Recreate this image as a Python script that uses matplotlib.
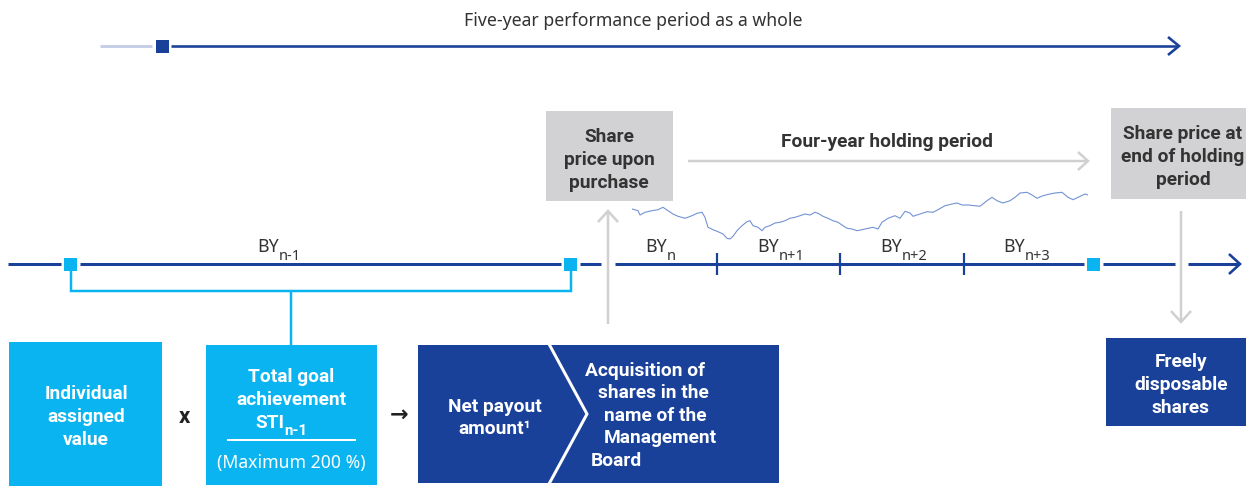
import matplotlib
matplotlib.use('Agg')
import matplotlib.pyplot as plt
from matplotlib.patches import Rectangle

plt.rcParams['font.family'] = ['Noto Sans', 'DejaVu Sans']
BOLDFAM = ['Roboto', 'DejaVu Sans']

# ---------------- data ----------------
title = "Five-year performance period as a whole"
holding_label = "Four-year holding period"
year_labels = ["BY", "BY", "BY", "BY", "BY"]
year_subs = ["n-1", "n", "n+1", "n+2", "n+3"]
box_purchase = "Share\nprice upon\npurchase"
box_end = "Share price at\nend of holding\nperiod"
box_individual = "Individual\nassigned\nvalue"
box_goal_lines = ["Total goal", "achievement"]
box_goal_sti = ("STI", "n-1")
box_goal_max = "(Maximum 200 %)"
box_net = "Net payout\namount\u00b9"
box_acq_lines = ["Acquisition of", "shares in the", "name of the", "Management", "Board"]
box_free = "Freely\ndisposable\nshares"

stock_day = [0, 6, 8, 13, 20, 26, 31, 36, 41, 46,
             53, 60, 65, 70, 73, 76, 81, 86, 91, 95,
             98, 101, 105, 110, 115, 118, 121, 126, 130, 133,
             138, 143, 148, 153, 158, 163, 168, 173, 178, 183,
             186, 191, 196, 201, 206, 211, 215, 220, 225, 230,
             236, 241, 246, 250, 256, 263, 268, 273, 278, 281,
             288, 295, 301, 306, 313, 320, 325, 330, 336, 343,
             348, 355, 360, 365, 371, 378, 383, 388, 395, 400,
             405, 411, 418, 423, 430, 436, 441, 446, 453, 456]
stock_price = [40, 38.3, 34, 36.7, 38.3, 39.3, 41.7, 38.3, 35, 32.7,
               30.7, 33.3, 35.7, 36.7, 31.7, 21.7, 19.3, 17.3, 15, 10.7,
               10, 12.7, 18.3, 23.3, 27.3, 28.3, 23.3, 21.7, 18.3, 21.7,
               23.3, 26, 26.7, 28.3, 30.7, 31.7, 33.3, 35, 34, 36.7,
               35.7, 32.7, 30.7, 28.3, 26.7, 23.3, 20.7, 20, 18.3, 19.3,
               20.7, 21.7, 20, 26.7, 30.7, 33.3, 30.7, 37.7, 36, 32.7,
               35, 37.3, 36.7, 39.3, 43.3, 45, 46, 44, 44, 43.3,
               42.7, 48.3, 51.7, 48.3, 46, 48.3, 51.7, 56, 56.7, 54,
               50.7, 53.3, 55, 56, 56.7, 51.7, 49.3, 51.7, 55, 54]

# ---------------- style ----------------
DARK = '#1a4199'
CYAN = '#0ab4f0'
GRAYBOX = '#d2d2d4'
GRAYARROW = '#d0d0d0'
LIGHT = '#c5d0e6'
TXT = '#333333'
STOCK = '#7393d3'
FS = 12.7
FB = 13.8
LS = 1.35

W, H = 1246, 502
fig = plt.figure(figsize=(W / 100, H / 100), dpi=100)
ax = fig.add_axes([0, 0, 1, 1])
ax.set_xlim(0, W)
ax.set_ylim(H, 0)
ax.axis('off')


def lw(px):
    return px * 0.72


def seg(x0, y0, x1, y1, color, px, z=2):
    ax.plot([x0, x1], [y0, y1], color=color, lw=lw(px), solid_capstyle='butt', zorder=z)


def poly(xs, ys, color, px, z=3):
    ax.plot(xs, ys, color=color, lw=lw(px), solid_capstyle='butt', solid_joinstyle='miter', zorder=z)


def square(cx, cy, color, s=13):
    ax.add_patch(Rectangle((cx - s / 2, cy - s / 2), s, s, color=color, zorder=4, lw=0))


def box(x0, y0, x1, y1, color):
    ax.add_patch(Rectangle((x0, y0), x1 - x0, y1 - y0, color=color, lw=0, zorder=1))


def btext(x, y, s, color='white', ha='center', **kw):
    return ax.text(x, y, s, ha=ha, va=kw.pop('va', 'center'), fontsize=kw.pop('fontsize', FB),
                   fontweight='bold', family=BOLDFAM, color=color, linespacing=LS, **kw)


# ---------------- top arrow ----------------
ax.text(633, 21, title, ha='center', va='center', fontsize=FS, color=TXT)
seg(100, 47, 152, 47, LIGHT, 3)
square(162, 47, DARK)
seg(171, 47, 1178, 47, DARK, 2.6)
poly([1168, 1179, 1168], [38, 47, 56], DARK, 2.6)

# ---------------- gray boxes & arrows ----------------
box(546, 112, 673, 202, GRAYBOX)
btext(609, 160, box_purchase, color=TXT)
box(1111, 109, 1246, 200, GRAYBOX)
btext(1183, 157, box_end, color=TXT)

btext(887, 142, holding_label, color=TXT)
seg(688, 162, 1087, 162, GRAYARROW, 2.5)
poly([1078, 1088, 1078], [153, 162, 171], GRAYARROW, 2.5)

# vertical gray arrows
seg(608, 325, 608, 213, GRAYARROW, 2.5)
poly([598, 608, 618], [223, 212, 223], GRAYARROW, 2.5)
seg(1181, 212, 1181, 322, GRAYARROW, 2.5)
poly([1171, 1181, 1191], [312, 323, 312], GRAYARROW, 2.5)

# ---------------- stock line ----------------
sax = fig.add_axes([632 / W, 1 - 250 / H, 456 / W, 60 / H])
sax.set_xlim(0, 456)
sax.set_ylim(0, 60)
sax.axis('off')
sax.plot(stock_day, stock_price, color=STOCK, lw=0.8)

# ---------------- main timeline ----------------
TY = 265
seg(8, TY, 61, TY, DARK, 3)
square(70.5, TY, CYAN)
seg(80, TY, 561, TY, DARK, 3)
square(570.5, TY, CYAN)
seg(580, TY, 601, TY, DARK, 3)
seg(615, TY, 1084, TY, DARK, 3)
for tx in [717, 840, 964]:
    seg(tx, 254, tx, 276, DARK, 2.2)
square(1093.5, TY, CYAN)
seg(1103, TY, 1175, TY, DARK, 3)
seg(1188, TY, 1239, TY, DARK, 3)
poly([1229, 1240, 1229], [255, TY, 275], DARK, 2.6)

# year labels
label_x = [257, 645, 757, 880, 1003]
for lx, main, sub in zip(label_x, year_labels, year_subs):
    t = ax.text(lx, 252, main, ha='left', va='baseline', fontsize=FS, color=TXT)
    ax.annotate(sub, xy=(1, 0), xycoords=t, xytext=(0, -3), textcoords='offset points',
                ha='left', va='baseline', fontsize=10.5, color=TXT)

# cyan bracket
poly([70.5, 70.5, 570.5, 570.5], [272, 292, 292, 272], CYAN, 2.5)
seg(291, 292, 291, 346, CYAN, 2.5)

# ---------------- bottom boxes ----------------
box(9, 343, 162, 487, CYAN)
btext(86, 417, box_individual)
btext(184, 417, "x", color='#222222', fontsize=16)

box(206, 346, 377, 486, CYAN)
for ly, line in zip([377, 400], box_goal_lines):
    btext(291, ly, line)
t = btext(284, 428, box_goal_sti[0], ha='right', va='baseline')
ax.annotate(box_goal_sti[1], xy=(1, 0), xycoords=t, xytext=(0.3, -2.5), textcoords='offset points',
            ha='left', va='baseline', fontsize=11, fontweight='bold', family=BOLDFAM, color='white')
seg(227, 441, 356, 441, 'white', 2)
ax.text(291, 463, box_goal_max, ha='center', va='center', fontsize=FS, color='white')

ax.text(399, 415, "\u2192", ha='center', va='center', fontsize=16, fontweight='bold',
        color='#222222', family=['DejaVu Sans'])

box(418, 346, 779, 484, DARK)
poly([549, 587, 549], [345, 415, 485], 'white', 3)
btext(495, 418, box_net)
acq_x = [585, 598, 604, 604, 591]
acq_y = [371, 393, 416, 438, 461]
for axx, ayy, line in zip(acq_x, acq_y, box_acq_lines):
    btext(axx, ayy, line, ha='left')

box(1106, 339, 1246, 427, DARK)
btext(1181, 385, box_free)

fig.savefig('out.png', dpi=100, facecolor='white')
